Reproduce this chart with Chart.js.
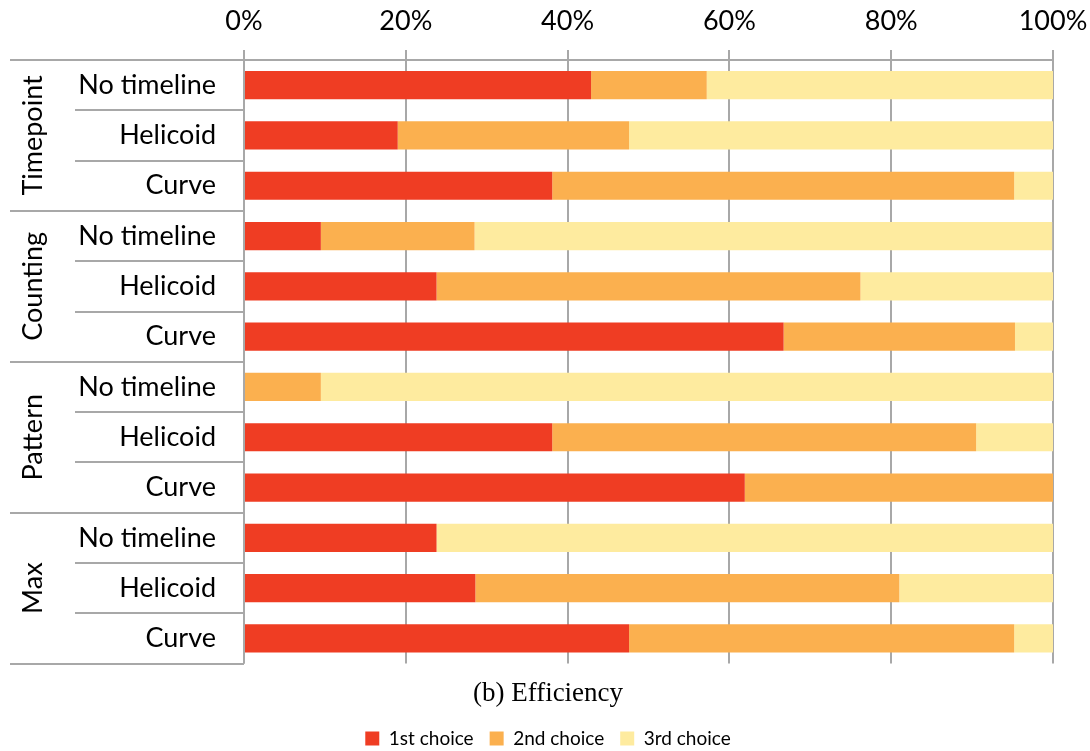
<!DOCTYPE html>
<html>
<head>
<meta charset="utf-8">
<script src="https://cdn.jsdelivr.net/npm/chart.js@4/dist/chart.umd.min.js"></script>
<style>
  html, body { margin: 0; padding: 0; background: #fff; }
  #wrap { width: 1090px; height: 751px; }
</style>
</head>
<body>
<div id="wrap"><canvas id="effChart" width="1090" height="751"></canvas></div>
<script>
// groups and methods (rows, top to bottom)
const groups = ['Timepoint', 'Counting', 'Pattern', 'Max'];
const methods = ['No timeline', 'Helicoid', 'Curve'];
const rowLabels = [
  'No timeline', 'Helicoid', 'Curve',
  'No timeline', 'Helicoid', 'Curve',
  'No timeline', 'Helicoid', 'Curve',
  'No timeline', 'Helicoid', 'Curve'
];

// share of participants per choice, in %
const firstChoice  = [42.9, 19.0, 38.1,  9.5, 23.8, 66.7,  0.0, 38.1, 61.9, 23.8, 28.6, 47.6];
const secondChoice = [14.3, 28.6, 57.1, 19.0, 52.4, 28.6,  9.5, 52.4, 38.1,  0.0, 52.4, 47.6];
const thirdChoice  = [42.8, 52.4,  4.8, 71.4, 23.8,  4.7, 90.5,  9.5,  0.0, 76.2, 19.0,  4.8];

const tickValues = [0, 20, 40, 60, 80, 100];

const gridColor = '#a8a8a8';
const labelFont = 'Lato, "DejaVu Sans", sans-serif';

// draws the two-level row labels and the separator lines on the left
const rowLabelsPlugin = {
  id: 'rowLabels',
  afterDraw(chart) {
    const { ctx, chartArea, scales } = chart;
    const y = scales.y;
    const left = chartArea.left;
    const rowH = (chartArea.bottom - chartArea.top) / rowLabels.length;
    ctx.save();

    // separators
    ctx.strokeStyle = gridColor;
    ctx.lineWidth = 2;
    for (let i = 0; i <= rowLabels.length; i++) {
      const yy = Math.round(chartArea.top + i * rowH);
      const startX = (i % methods.length === 0) ? 10 : 75;
      ctx.beginPath();
      ctx.moveTo(startX, yy);
      ctx.lineTo(left, yy);
      ctx.stroke();
    }
    // top line across the plot
    ctx.beginPath();
    ctx.moveTo(10, chartArea.top);
    ctx.lineTo(chartArea.right, chartArea.top);
    ctx.stroke();
    // left axis line
    ctx.beginPath();
    ctx.moveTo(left, chartArea.top - 10);
    ctx.lineTo(left, chartArea.bottom);
    ctx.stroke();

    // method labels
    ctx.fillStyle = '#000';
    ctx.font = '27px ' + labelFont;
    ctx.textAlign = 'right';
    ctx.textBaseline = 'middle';
    rowLabels.forEach((lab, i) => {
      ctx.fillText(lab, 216, y.getPixelForValue(i));
    });

    // group labels, rotated
    groups.forEach((g, gi) => {
      const cy = chartArea.top + (gi * methods.length + methods.length / 2) * rowH;
      ctx.save();
      ctx.translate(33, cy);
      ctx.rotate(-Math.PI / 2);
      ctx.textAlign = 'center';
      ctx.textBaseline = 'middle';
      ctx.fillText(g, 0, 0);
      ctx.restore();
    });
    ctx.restore();
  }
};

const ctx = document.getElementById('effChart').getContext('2d');
new Chart(ctx, {
  type: 'bar',
  data: {
    labels: rowLabels,
    datasets: [
      { label: '1st choice', data: firstChoice, backgroundColor: '#ef3d23' },
      { label: '2nd choice', data: secondChoice, backgroundColor: '#fbb04f' },
      { label: '3rd choice', data: thirdChoice, backgroundColor: '#feeb9f' }
    ]
  },
  options: {
    indexAxis: 'y',
    responsive: false,
    animation: false,
    layout: { padding: { left: 43, right: 37, top: 0, bottom: -7 } },
    datasets: { bar: { barPercentage: 0.56, categoryPercentage: 1.0 } },
    scales: {
      x: {
        position: 'top',
        stacked: true,
        min: 0,
        max: 100,
        afterFit: (scale) => { scale.height = 60; },
        afterBuildTicks: (scale) => { scale.ticks = tickValues.map(v => ({ value: v })); },
        ticks: {
          padding: 2,
          color: '#000',
          font: { family: labelFont, size: 27, lineHeight: 2.0 },
          callback: (v) => v + '%'
        },
        grid: { color: gridColor, lineWidth: 2, tickLength: 10 },
        border: { display: false }
      },
      y: {
        stacked: true,
        afterFit: (scale) => { scale.width = 201; },
        ticks: { display: false },
        grid: { display: false },
        border: { display: false }
      }
    },
    plugins: {
      tooltip: { enabled: false },
      title: {
        display: true,
        position: 'bottom',
        weight: 500,
        text: '(b) Efficiency',
        color: '#000',
        font: { family: '"Liberation Serif", "DejaVu Serif", serif', size: 27, weight: 'normal' },
        padding: { top: 14, bottom: 3 }
      },
      legend: {
        position: 'bottom',
        labels: {
          color: '#000',
          boxWidth: 14,
          boxHeight: 14,
          padding: 16,
          font: { family: labelFont, size: 19 }
        }
      }
    }
  },
  plugins: [rowLabelsPlugin]
});
</script>
</body>
</html>
